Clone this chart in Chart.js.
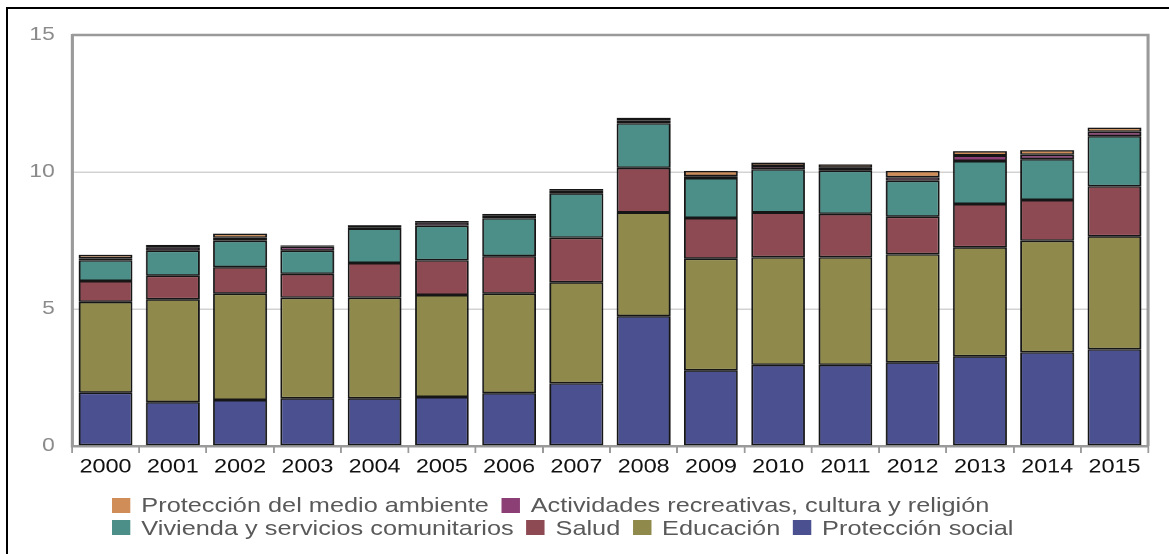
<!DOCTYPE html>
<html>
<head>
<meta charset="utf-8">
<script src="https://cdn.jsdelivr.net/npm/chart.js@4"></script>
<style>
  html, body { margin: 0; padding: 0; background: #fff; overflow: hidden; }
  body { width: 1169px; height: 554px; position: relative; }
  /* marco negro exterior (solo se ven el borde superior e izquierdo) */
  #frame {
    position: absolute; left: 6px; top: 7px; width: 1400px; height: 800px;
    border-left: 2px solid #000; border-top: 2px solid #000;
  }
  /* la imagen original está estirada en horizontal, se reproduce con scaleX */
  #stage {
    position: absolute; left: 0; top: 0; width: 951px; height: 554px;
    transform: scaleX(1.2292); transform-origin: 0 0;
  }
  #legend {
    position: absolute; left: 91px; top: 494px;
    font-family: "Liberation Sans", Arial, sans-serif; font-size: 20.6px; color: #595959;
  }
  .row { display: flex; align-items: center; height: 22.5px; white-space: nowrap; }
  .item { display: flex; align-items: center; margin-right: 10px; }
  .sw { width: 15px; height: 15px; margin-right: 9px; }
</style>
</head>
<body>
<div id="frame"></div>
<div id="stage">
  <canvas id="chart" width="951" height="554"></canvas>
  <div id="legend"></div>
</div>
<script>
const years = ["2000", "2001", "2002", "2003", "2004", "2005", "2006", "2007",
  "2008", "2009", "2010", "2011", "2012", "2013", "2014", "2015"];

// % del PIB
const proteccionSocial = [1.95, 1.6, 1.68, 1.74, 1.74, 1.79, 1.93, 2.29, 4.74, 2.76, 2.96, 2.96, 3.05, 3.27, 3.42, 3.53];
const educacion = [3.31, 3.75, 3.88, 3.67, 3.67, 3.72, 3.63, 3.68, 3.78, 4.08, 3.93, 3.93, 3.95, 3.98, 4.07, 4.12];
const salud = [0.76, 0.87, 0.97, 0.87, 1.27, 1.27, 1.37, 1.63, 1.63, 1.48, 1.63, 1.58, 1.37, 1.58, 1.49, 1.83];
const vivienda = [0.76, 0.91, 0.96, 0.85, 1.26, 1.26, 1.38, 1.62, 1.63, 1.46, 1.58, 1.58, 1.31, 1.57, 1.49, 1.83];
const actividades = [0.07, 0.12, 0.11, 0.14, 0.04, 0.12, 0.1, 0.1, 0.09, 0.07, 0.12, 0.11, 0.13, 0.2, 0.16, 0.16];
const medioAmbiente = [0.13, 0.09, 0.15, 0.05, 0.08, 0.05, 0.06, 0.06, 0.11, 0.19, 0.12, 0.12, 0.23, 0.16, 0.17, 0.15];

const yTicks = [0, 5, 10, 15];

const series = [
  { label: "Protección social", data: proteccionSocial, color: "#4b5190" },
  { label: "Educación", data: educacion, color: "#8f8a4b" },
  { label: "Salud", data: salud, color: "#8e4a53" },
  { label: "Vivienda y servicios comunitarios", data: vivienda, color: "#4b8f88" },
  { label: "Actividades recreativas, cultura y religión", data: actividades, color: "#8c3f75" },
  { label: "Protección del medio ambiente", data: medioAmbiente, color: "#d08d58" },
];

const FONT = "'Liberation Sans', Arial, sans-serif";

// borde gris superior y derecho del área de trazado
const plotFrame = {
  id: "plotFrame",
  afterDraw(chart) {
    const { ctx, chartArea: a } = chart;
    ctx.save();
    ctx.strokeStyle = "#9a9a9a";
    ctx.lineWidth = 2.5;
    ctx.beginPath();
    ctx.moveTo(a.left, a.top);
    ctx.lineTo(a.right, a.top);
    ctx.lineTo(a.right, a.bottom);
    ctx.stroke();
    ctx.restore();
  },
};

new Chart(document.getElementById("chart"), {
  type: "bar",
  data: {
    labels: years,
    datasets: series.map((s) => ({
      label: s.label,
      data: s.data,
      backgroundColor: s.color,
      borderColor: "#161616",
      borderWidth: 1.5,
      borderSkipped: false,
      barPercentage: 0.8,
      categoryPercentage: 1,
    })),
  },
  options: {
    responsive: false,
    animation: false,
    devicePixelRatio: 2,
    layout: { padding: { top: 35, right: 17, left: 0, bottom: 0 } },
    plugins: { legend: { display: false }, tooltip: { enabled: false } },
    scales: {
      x: {
        stacked: true,
        afterFit: (scale) => { scale.height = 108; },
        grid: {
          offset: true,
          drawOnChartArea: false,
          drawTicks: true,
          tickLength: 7,
          color: "#9a9a9a",
          lineWidth: 1.5,
        },
        border: { display: true, color: "#9a9a9a", width: 2.5 },
        ticks: { color: "#111", padding: 3, font: { family: FONT, size: 19 } },
      },
      y: {
        stacked: true,
        min: 0,
        max: 15,
        afterFit: (scale) => { scale.width = 58.5; },
        afterBuildTicks: (scale) => { scale.ticks = yTicks.map((v) => ({ value: v })); },
        grid: {
          drawTicks: false,
          color: (c) => (c.tick && (c.tick.value === 5 || c.tick.value === 10) ? "#d2d2d2" : "rgba(0,0,0,0)"),
          lineWidth: 1.5,
        },
        border: { display: true, color: "#9a9a9a", width: 2.5 },
        ticks: { color: "#8a8a8a", padding: 14, font: { family: FONT, size: 18.5 } },
      },
    },
  },
  plugins: [plotFrame],
});

// leyenda en dos filas, en orden inverso al apilado
const legendEl = document.getElementById("legend");
const ordered = series.slice().reverse();
[ordered.slice(0, 2), ordered.slice(2)].forEach(function (rowItems) {
  const row = document.createElement("div");
  row.className = "row";
  rowItems.forEach(function (s) {
    const item = document.createElement("div");
    item.className = "item";
    const sw = document.createElement("span");
    sw.className = "sw";
    sw.style.background = s.color;
    const txt = document.createElement("span");
    txt.textContent = s.label;
    item.appendChild(sw);
    item.appendChild(txt);
    row.appendChild(item);
  });
  legendEl.appendChild(row);
});
</script>
</body>
</html>
